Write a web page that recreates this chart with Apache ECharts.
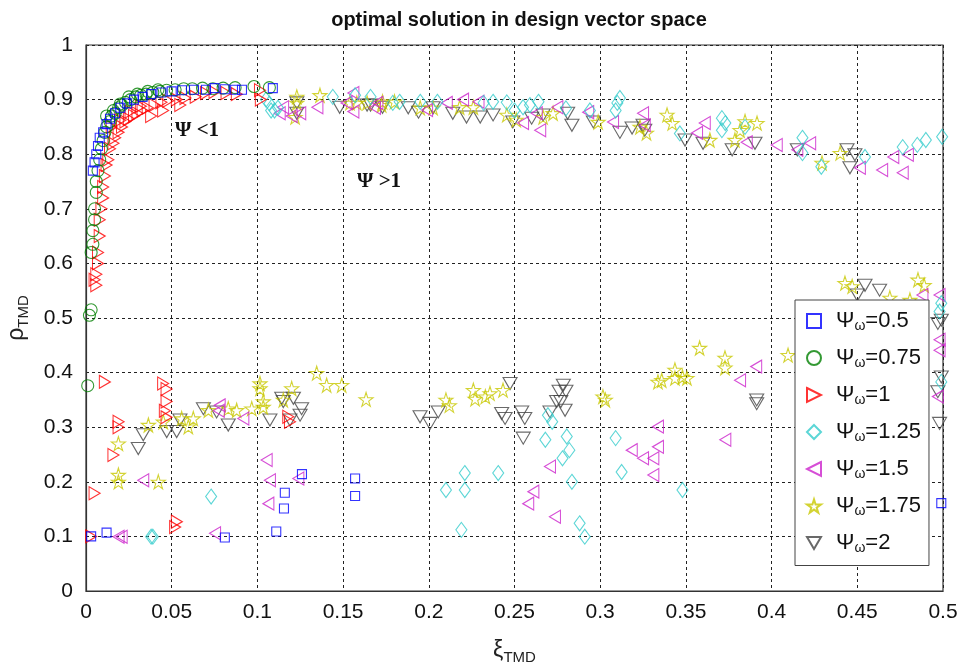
<!DOCTYPE html>
<html>
<head>
<meta charset="utf-8">
<script src="https://cdn.jsdelivr.net/npm/echarts@6/dist/echarts.min.js"></script>
<style>html,body{margin:0;padding:0;background:#fff}#c{width:959px;height:667px}</style>
</head>
<body>
<div id="c"></div>
<script>
// ---- data (xi_TMD, rho_TMD) ----
const seriesNames = ['Ψω=0.5','Ψω=0.75','Ψω=1','Ψω=1.25','Ψω=1.5','Ψω=1.75','Ψω=2'];
const xTicks = [0,0.05,0.1,0.15,0.2,0.25,0.3,0.35,0.4,0.45,0.5];
const yTicks = [0,0.1,0.2,0.3,0.4,0.5,0.6,0.7,0.8,0.9,1];

const psi050 = [[0.004,0.77],[0.005,0.785],[0.006,0.80],[0.007,0.815],[0.008,0.83],[0.010,0.84],[0.012,0.855],[0.014,0.865],[0.017,0.875],[0.020,0.885],[0.024,0.893],[0.028,0.90],[0.033,0.905],[0.038,0.91],[0.044,0.913],[0.050,0.915],[0.056,0.917],[0.063,0.918],[0.070,0.918],[0.075,0.921],[0.081,0.919],[0.087,0.918],[0.091,0.918],[0.109,0.921],
 [0.003,0.100],[0.012,0.107],[0.081,0.098],[0.111,0.109],[0.1155,0.151],[0.116,0.180],[0.126,0.214],[0.157,0.206],[0.157,0.174],[0.499,0.161]];
const psi075 = [[0.001,0.376],[0.002,0.505],[0.003,0.515],[0.003,0.62],[0.004,0.635],[0.004,0.66],[0.005,0.68],[0.005,0.70],[0.006,0.73],[0.006,0.75],[0.007,0.77],[0.008,0.79],[0.009,0.81],[0.010,0.825],[0.011,0.84],[0.012,0.85],[0.014,0.86],[0.015,0.87],[0.017,0.875],[0.019,0.885],[0.021,0.89],[0.023,0.895],[0.026,0.90],[0.029,0.905],[0.032,0.908],[0.035,0.91],[0.039,0.913],[0.043,0.915],[0.047,0.917],[0.052,0.918],[0.057,0.92],[0.062,0.92],[0.068,0.921],[0.074,0.92],[0.080,0.921],[0.087,0.922],[0.098,0.924],[0.107,0.922],
 [0.012,0.87],[0.016,0.88],[0.020,0.892],[0.025,0.905],[0.030,0.91],[0.036,0.915],[0.042,0.918]];
const psi100 = [[0.003,0.100],[0.005,0.179],[0.011,0.383],[0.019,0.31],[0.019,0.30],[0.016,0.249],[0.045,0.38],[0.047,0.37],[0.047,0.347],[0.046,0.33],[0.047,0.318],[0.053,0.127],[0.052,0.117],[0.118,0.319],[0.119,0.31],
 [0.005,0.57],[0.006,0.58],[0.006,0.56],[0.007,0.60],[0.007,0.62],[0.008,0.65],[0.008,0.68],[0.009,0.70],[0.010,0.72],[0.010,0.74],[0.011,0.76],[0.012,0.78],[0.013,0.79],[0.014,0.81],[0.016,0.82],[0.017,0.83],[0.019,0.84],[0.021,0.85],[0.023,0.86],[0.025,0.865],[0.028,0.87],[0.030,0.875],[0.033,0.88],[0.036,0.885],[0.040,0.89],[0.044,0.895],[0.048,0.898],[0.053,0.90],[0.058,0.903],[0.064,0.905],[0.070,0.912],[0.075,0.914],[0.082,0.912],[0.088,0.91],[0.1015,0.917],[0.102,0.90],
 [0.015,0.85],[0.020,0.862],[0.026,0.878],[0.032,0.888],[0.038,0.87],[0.045,0.88],[0.055,0.89]];
const psi125 = [[0.105,0.90],[0.108,0.88],[0.112,0.885],[0.107,0.893],[0.110,0.88],[0.144,0.905],[0.157,0.908],[0.166,0.905],[0.179,0.894],[0.183,0.896],[0.195,0.896],[0.205,0.896],[0.232,0.894],[0.2375,0.896],[0.2455,0.895],[0.250,0.88],[0.255,0.886],[0.259,0.89],[0.264,0.896],[0.280,0.884],[0.294,0.88],[0.309,0.88],[0.310,0.894],[0.3115,0.903],
 [0.3465,0.838],[0.371,0.866],[0.373,0.857],[0.371,0.844],[0.3845,0.85],[0.418,0.83],[0.418,0.802],[0.429,0.777],[0.4545,0.795],[0.4765,0.813],[0.485,0.817],[0.490,0.826],[0.4995,0.832],
 [0.073,0.173],[0.038,0.0995],[0.039,0.0995],[0.221,0.216],[0.221,0.185],[0.210,0.185],[0.219,0.112],[0.2405,0.216],[0.268,0.277],[0.2695,0.322],[0.272,0.31],[0.2805,0.283],[0.278,0.243],[0.282,0.258],[0.2835,0.20],[0.288,0.124],[0.291,0.0995],[0.309,0.28],[0.3125,0.218],[0.348,0.185],
 [0.499,0.527],[0.498,0.512],[0.499,0.383]];
const psi150 = [[0.115,0.886],[0.113,0.875],[0.120,0.87],[0.125,0.875],[0.135,0.886],[0.152,0.894],[0.170,0.894],[0.156,0.912],[0.156,0.878],[0.1686,0.885],[0.199,0.881],[0.2105,0.894],[0.220,0.90],[0.229,0.896],[0.255,0.857],[0.265,0.844],[0.263,0.875],[0.275,0.886],[0.293,0.877],[0.3075,0.859],[0.325,0.875],[0.326,0.853],
 [0.361,0.857],[0.3565,0.839],[0.3855,0.822],[0.403,0.817],[0.4225,0.82],[0.415,0.808],[0.4515,0.775],[0.4645,0.771],[0.471,0.795],[0.4795,0.799],[0.4765,0.766],
 [0.0208,0.0995],[0.019,0.0995],[0.0334,0.203],[0.0753,0.1057],[0.078,0.34],[0.0775,0.33],[0.0918,0.316],[0.1054,0.24],[0.1073,0.203],[0.1064,0.16],[0.1239,0.206],
 [0.2707,0.228],[0.261,0.182],[0.258,0.16],[0.2736,0.136],[0.3184,0.258],[0.325,0.243],[0.331,0.243],[0.331,0.2125],[0.3337,0.264],[0.3337,0.301],[0.373,0.277],[0.3816,0.386],[0.391,0.411],
 [0.488,0.542],[0.498,0.542],[0.498,0.46],[0.498,0.441],[0.497,0.356]];
const psi175 = [[0.123,0.905],[0.123,0.894],[0.122,0.868],[0.1365,0.908],[0.154,0.894],[0.164,0.894],[0.1725,0.89],[0.158,0.894],[0.173,0.896],[0.180,0.896],[0.195,0.885],[0.2025,0.885],[0.218,0.886],[0.226,0.886],[0.2455,0.872],[0.251,0.863],[0.2667,0.868],[0.2725,0.875],[0.2988,0.859],[0.3232,0.85],[0.327,0.839],
 [0.339,0.872],[0.342,0.857],[0.364,0.826],[0.3786,0.826],[0.3816,0.844],[0.3915,0.857],[0.3845,0.86],[0.4294,0.784],[0.440,0.802],
 [0.0189,0.27],[0.0189,0.2125],[0.0189,0.20],[0.0422,0.20],[0.0364,0.304],[0.0451,0.31],[0.0558,0.316],[0.0597,0.301],[0.0626,0.316],[0.0714,0.331],[0.083,0.334],[0.0879,0.331],[0.0967,0.334],[0.1015,0.371],[0.1015,0.38],[0.1034,0.347],[0.1034,0.337],[0.120,0.371],[0.1151,0.35],[0.1346,0.399],[0.1404,0.377],[0.1492,0.377],[0.1634,0.351],
 [0.210,0.35],[0.212,0.34],[0.226,0.368],[0.227,0.352],[0.233,0.356],[0.2357,0.362],[0.2433,0.368],[0.3016,0.356],[0.303,0.35],[0.3337,0.383],
 [0.3359,0.386],[0.3436,0.405],[0.3436,0.39],[0.348,0.392],[0.3506,0.39],[0.358,0.445],[0.3728,0.427],[0.3728,0.409],[0.4096,0.432],
 [0.4428,0.564],[0.447,0.558],[0.4807,0.533],[0.4854,0.57],[0.489,0.56],[0.469,0.537]];
const psi200 = [[0.123,0.894],[0.123,0.875],[0.148,0.886],[0.166,0.89],[0.173,0.886],[0.164,0.89],[0.188,0.885],[0.194,0.877],[0.2025,0.885],[0.214,0.875],[0.222,0.868],[0.230,0.868],[0.2375,0.872],[0.249,0.859],[0.260,0.866],[0.2667,0.872],[0.281,0.875],[0.2835,0.853],[0.296,0.859],[0.3115,0.84],[0.3186,0.848],[0.325,0.853],
 [0.326,0.844],[0.3495,0.826],[0.360,0.82],[0.377,0.808],[0.3903,0.82],[0.415,0.808],[0.444,0.808],[0.4457,0.775],[0.4486,0.799],
 [0.0305,0.261],[0.0334,0.286],[0.0471,0.292],[0.0529,0.292],[0.0548,0.313],[0.0685,0.334],[0.0762,0.328],[0.083,0.304],[0.1073,0.313],[0.1142,0.353],[0.121,0.353],[0.119,0.313],[0.1249,0.322],[0.1258,0.334],[0.1151,0.347],
 [0.1949,0.319],[0.2007,0.307],[0.2055,0.328],[0.2474,0.38],[0.2425,0.325],[0.2445,0.316],[0.2542,0.328],[0.256,0.316],[0.2551,0.28],[0.2707,0.328],[0.2785,0.377],[0.276,0.366],[0.280,0.366],[0.2746,0.347],[0.277,0.347],[0.2795,0.331],
 [0.3913,0.35],[0.3913,0.343],[0.4545,0.56],[0.463,0.551],[0.450,0.542],[0.499,0.496],[0.497,0.49],[0.499,0.392],[0.497,0.365],[0.498,0.307]];

// ---- styling ----
const colors = ['#0000ff','#008000','#ff0000','#33cccc','#cc22cc','#c8c800','#444444'];
const starPath = 'path://M50,0 L61,35 L98,35 L68,57 L79,91 L50,70 L21,91 L32,57 L2,35 L39,35 Z';
const triRight = 'path://M0,0 L12,6 L0,12 Z';
const triLeft  = 'path://M12,0 L0,6 L12,12 Z';
const triDown  = 'path://M0,0 L14,0 L7,12 Z';
const symbols = [
  {symbol:'rect', size:9},
  {symbol:'circle', size:12},
  {symbol:triRight, size:[11,13]},
  {symbol:'diamond', size:[11,15]},
  {symbol:triLeft, size:[11,13]},
  {symbol:starPath, size:14},
  {symbol:triDown, size:[14,12]}
];
const allData = [psi050, psi075, psi100, psi125, psi150, psi175, psi200];

const chart = echarts.init(document.getElementById('c'), null, {renderer:'canvas'});
const FONT = 'Liberation Sans, Arial, sans-serif';
const fmt = v => String(+(+v).toFixed(2));

const series = allData.map((d,i)=>({
  name: seriesNames[i],
  type:'scatter',
  data: d,
  symbol: symbols[i].symbol,
  symbolSize: symbols[i].size,
  itemStyle:{color:'rgba(255,255,255,0)', borderColor:colors[i], borderWidth:1.1},
  emphasis:{disabled:true},
  z: 2 + (6-i)
}));

chart.setOption({
  animation:false,
  backgroundColor:'#fff',
  title:{text:'optimal solution in design vector space', left:514, top:5, textAlign:'center',
    textStyle:{fontFamily:FONT, fontSize:20, fontWeight:'bold', color:'#111'}},
  grid:{left:86, right:16, top:45, bottom:76, outerBoundsMode:'none', containLabel:false,
    show:true, borderColor:'#333', borderWidth:1.2, backgroundColor:'#fff'},
  xAxis:{type:'value', min:0, max:0.5, interval:0.05,
    name:'{a|ξ}{s|TMD}', nameLocation:'middle', nameGap:46,
    nameTextStyle:{rich:{a:{fontFamily:FONT, fontSize:23, color:'#222'}, s:{fontFamily:FONT, fontSize:15, color:'#222', padding:[13,0,0,0]}}},
    axisLine:{show:true, lineStyle:{color:'#333', width:1.2}},
    axisTick:{show:false},
    axisLabel:{fontFamily:FONT, fontSize:21, color:'#111', margin:11, formatter:fmt},
    splitLine:{show:true, lineStyle:{color:'#222', type:[3,3], width:1}}},
  yAxis:{type:'value', min:0, max:1, interval:0.1,
    name:'{a|ρ}{s|TMD}', nameLocation:'middle', nameGap:55,
    nameTextStyle:{rich:{a:{fontFamily:FONT, fontSize:23, color:'#222'}, s:{fontFamily:FONT, fontSize:15, color:'#222', padding:[13,0,0,0]}}},
    axisLine:{show:true, lineStyle:{color:'#333', width:1.2}},
    axisTick:{show:false},
    axisLabel:{fontFamily:FONT, fontSize:21, color:'#111', margin:13, formatter:fmt},
    splitLine:{show:true, lineStyle:{color:'#222', type:[3,3], width:1}}},
  legend:{orient:'vertical', left:795, top:300, itemWidth:14, itemHeight:14, itemGap:13.5,
    padding:[10,8,10,11], borderColor:'#444', borderWidth:1, backgroundColor:'#fff',
    formatter: n => '{p|Ψ}{s|ω}{a|' + n.slice(2) + '}',
    textStyle:{rich:{
      p:{fontFamily:FONT, fontSize:22, color:'#111', lineHeight:23, padding:[0,0,0,10]},
      a:{fontFamily:FONT, fontSize:22, color:'#111', lineHeight:23},
      s:{fontFamily:FONT, fontSize:14, color:'#111', padding:[11,0,0,0]}}},
    z:20},
  graphic:[
    {type:'text', left:175, top:120, z:30, style:{text:'Ψ <1', font:'bold 21px Liberation Serif, serif', fill:'#111'}},
    {type:'text', left:357, top:171, z:30, style:{text:'Ψ >1', font:'bold 21px Liberation Serif, serif', fill:'#111'}}
  ],
  series: series
});
</script>
</body>
</html>
